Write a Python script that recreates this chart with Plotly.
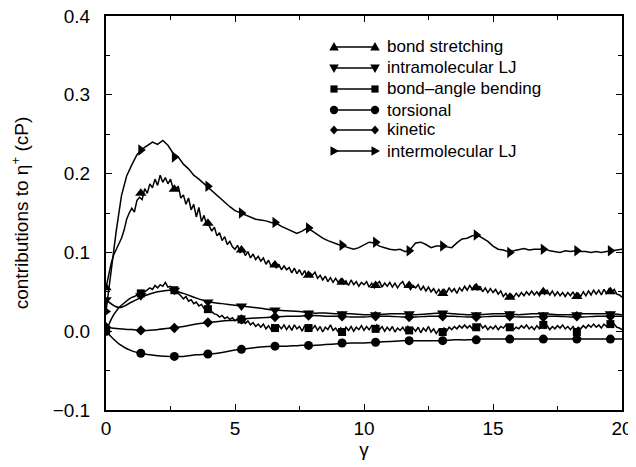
import numpy as np
import plotly.graph_objects as go

# ---------------- data ----------------
# dense sample grid for the noisy curves (step 0.1)
x_fine = [round(0.1 * i, 1) for i in range(201)]
bond_stretching = [
    0.055, 0.072, 0.086, 0.097, 0.104, 0.110, 0.118, 0.128, 0.142, 0.150,
    0.156, 0.151, 0.166, 0.170, 0.167, 0.181, 0.175, 0.187, 0.182, 0.193,
    0.185, 0.198, 0.189, 0.195, 0.187, 0.193, 0.181, 0.179, 0.184, 0.169,
    0.173, 0.161, 0.169, 0.154, 0.161, 0.145, 0.157, 0.139, 0.147, 0.135,
    0.134, 0.127, 0.132, 0.121, 0.125, 0.115, 0.120, 0.110, 0.114, 0.107,
    0.104, 0.109, 0.100, 0.103, 0.096, 0.101, 0.093, 0.098, 0.091, 0.095,
    0.089, 0.093, 0.085, 0.090, 0.082, 0.087, 0.080, 0.085, 0.078, 0.083,
    0.078, 0.081, 0.074, 0.080, 0.073, 0.078, 0.071, 0.077, 0.069, 0.074,
    0.071, 0.075, 0.067, 0.071, 0.065, 0.070, 0.063, 0.068, 0.062, 0.067,
    0.062, 0.066, 0.060, 0.064, 0.058, 0.065, 0.059, 0.063, 0.057, 0.062,
    0.059, 0.063, 0.056, 0.061, 0.055, 0.060, 0.063, 0.056, 0.061, 0.057,
    0.062, 0.056, 0.061, 0.055, 0.060, 0.063, 0.056, 0.059, 0.053, 0.058,
    0.055, 0.059, 0.052, 0.057, 0.051, 0.056, 0.050, 0.054, 0.048, 0.053,
    0.047, 0.053, 0.049, 0.055, 0.050, 0.054, 0.048, 0.055, 0.051, 0.057,
    0.052, 0.058, 0.053, 0.059, 0.052, 0.057, 0.050, 0.055, 0.049, 0.054,
    0.049, 0.053, 0.047, 0.051, 0.044, 0.048, 0.042, 0.047, 0.043, 0.048,
    0.044, 0.049, 0.045, 0.050, 0.046, 0.051, 0.046, 0.050, 0.045, 0.051,
    0.047, 0.052, 0.046, 0.051, 0.045, 0.050, 0.045, 0.049, 0.044, 0.049,
    0.045, 0.050, 0.043, 0.048, 0.044, 0.050, 0.045, 0.051, 0.046, 0.052,
    0.047, 0.052, 0.046, 0.053, 0.048, 0.054, 0.049, 0.053, 0.047, 0.046,
    0.043,
]
bond_angle_bending = [
    0.000, 0.008, 0.015, 0.021, 0.026, 0.030, 0.033, 0.036, 0.039, 0.041,
    0.043, 0.044, 0.046, 0.047, 0.048, 0.050, 0.052, 0.055, 0.053, 0.058,
    0.055, 0.059, 0.057, 0.062, 0.056, 0.057, 0.053, 0.051, 0.048, 0.045,
    0.041, 0.044, 0.038, 0.040, 0.035, 0.037, 0.032, 0.034, 0.029, 0.030,
    0.027, 0.025, 0.022, 0.021, 0.018, 0.020, 0.016, 0.018, 0.015, 0.017,
    0.013, 0.016, 0.012, 0.014, 0.010, 0.013, 0.008, 0.011, 0.006, 0.009,
    0.005, 0.009, 0.003, 0.007, 0.002, 0.006, 0.001, 0.007, 0.003, 0.008,
    0.002, 0.007, 0.001, 0.008, 0.003, 0.006, 0.000, 0.007, 0.002, 0.005,
    0.003, 0.007, 0.001, 0.006, -0.001, 0.005, 0.002, 0.008, 0.001, 0.004,
    -0.001, 0.004, -0.002, 0.005, 0.001, 0.006, 0.000, 0.005, 0.002, 0.007,
    0.001, 0.006, 0.002, 0.007, 0.003, 0.008, 0.002, 0.006, 0.000, 0.005,
    0.001, 0.006, -0.001, 0.004, 0.001, 0.005, 0.000, 0.006, 0.001, 0.004,
    0.000, 0.005, -0.002, 0.004, 0.000, 0.006, -0.001, 0.003, -0.003, 0.002,
    -0.001, 0.004, 0.000, 0.005, 0.002, 0.006, 0.003, 0.007, 0.004, 0.008,
    0.004, 0.007, 0.003, 0.008, 0.005, 0.009, 0.004, 0.007, 0.002, 0.006,
    0.003, 0.007, 0.002, 0.006, 0.004, 0.008, 0.003, 0.006, 0.002, 0.005,
    0.003, 0.007, 0.004, 0.008, 0.003, 0.006, 0.002, 0.007, 0.003, 0.008,
    0.004, 0.007, 0.002, 0.006, 0.003, 0.007, 0.004, 0.008, 0.003, 0.006,
    0.002, 0.006, 0.001, 0.005, 0.003, 0.007, 0.004, 0.008, 0.005, 0.009,
    0.005, 0.008, 0.004, 0.009, 0.006, 0.010, 0.007, 0.009, 0.005, 0.004,
    0.002,
]

# grid step 0.2 for the intermolecular LJ curve
x_mid = [round(0.2 * i, 1) for i in range(101)]
intermolecular_lj = [
    0.025, 0.078, 0.128, 0.172, 0.197, 0.211, 0.224, 0.231, 0.236, 0.240,
    0.237, 0.242, 0.236, 0.226, 0.221, 0.212, 0.206, 0.198, 0.193, 0.187,
    0.182, 0.176, 0.169, 0.163, 0.158, 0.153, 0.150, 0.147, 0.144, 0.142,
    0.141, 0.140, 0.138, 0.137, 0.133, 0.130, 0.128, 0.124, 0.127, 0.131,
    0.127, 0.122, 0.118, 0.115, 0.112, 0.110, 0.108, 0.106, 0.104, 0.106,
    0.110, 0.113, 0.112, 0.108, 0.106, 0.104, 0.103, 0.104, 0.101, 0.104,
    0.112, 0.113, 0.110, 0.106, 0.108, 0.108, 0.107, 0.106, 0.112, 0.117,
    0.118, 0.121, 0.122, 0.118, 0.114, 0.108, 0.104, 0.103, 0.101, 0.102,
    0.104, 0.105, 0.103, 0.104, 0.104, 0.105, 0.102, 0.101, 0.100, 0.102,
    0.101, 0.102, 0.101, 0.101, 0.100, 0.101, 0.100, 0.101, 0.102, 0.103,
    0.104,
]

# grid step 0.5 for the smooth curves
x_coarse = [0.5 * i for i in range(41)]
intramolecular_lj = [
    0.040, 0.030, 0.037, 0.045, 0.050, 0.052, 0.048, 0.042, 0.037, 0.035,
    0.033, 0.031, 0.029, 0.027, 0.026, 0.025, 0.023, 0.023, 0.022, 0.022,
    0.021, 0.021, 0.022, 0.022, 0.021, 0.022, 0.023, 0.022, 0.021, 0.021,
    0.022, 0.022, 0.021, 0.022, 0.022, 0.021, 0.021, 0.022, 0.022, 0.022,
    0.021,
]
kinetic = [
    0.005, 0.003, 0.002, 0.001, 0.002, 0.004, 0.006, 0.009, 0.011, 0.013,
    0.014, 0.016, 0.017, 0.018, 0.019, 0.019, 0.020, 0.019, 0.019, 0.018,
    0.018, 0.019, 0.019, 0.018, 0.018, 0.019, 0.019, 0.019, 0.018, 0.018,
    0.019, 0.019, 0.018, 0.018, 0.019, 0.019, 0.018, 0.018, 0.019, 0.019,
    0.019,
]
torsional = [
    0.000, -0.016, -0.025, -0.029, -0.031, -0.032, -0.032, -0.030, -0.029, -0.027,
    -0.024, -0.022, -0.020, -0.019, -0.019, -0.018, -0.018, -0.017, -0.016, -0.015,
    -0.015, -0.014, -0.013, -0.012, -0.012, -0.012, -0.012, -0.011, -0.011, -0.010,
    -0.010, -0.010, -0.010, -0.010, -0.010, -0.010, -0.010, -0.010, -0.010, -0.010,
    -0.010,
]

# symbol positions along the curves
marker_x = [0.0, 1.35, 2.65, 3.95, 5.25, 6.55, 7.85, 9.15, 10.45, 11.75,
            13.05, 14.35, 15.65, 16.95, 18.25, 19.55]
m_bond_stretching = [0.055, 0.175, 0.180, 0.137, 0.103, 0.084, 0.071, 0.062,
                     0.058, 0.058, 0.048, 0.055, 0.043, 0.050, 0.044, 0.050]
m_intramolecular_lj = [0.040, 0.045, 0.052, 0.037, 0.032, 0.027, 0.023, 0.022,
                       0.021, 0.022, 0.023, 0.021, 0.022, 0.021, 0.021, 0.022]
m_bond_angle_bending = [0.000, 0.048, 0.052, 0.028, 0.015, 0.004, 0.004, -0.001,
                        0.003, 0.001, -0.001, 0.005, 0.005, 0.008, -0.001, 0.009]
m_torsional = [0.000, -0.028, -0.032, -0.029, -0.023, -0.019, -0.018, -0.015,
               -0.014, -0.012, -0.012, -0.011, -0.010, -0.010, -0.010, -0.010]
m_kinetic = [0.005, 0.001, 0.004, 0.011, 0.015, 0.018, 0.020, 0.019,
             0.019, 0.018, 0.019, 0.018, 0.019, 0.018, 0.019, 0.019]
m_intermolecular_lj = [0.025, 0.230, 0.221, 0.184, 0.150, 0.138, 0.131, 0.109,
                       0.113, 0.102, 0.108, 0.122, 0.100, 0.104, 0.102, 0.102]

legend_labels = ["bond stretching", "intramolecular LJ", "bond\u2013angle bending",
                 "torsional", "kinetic", "intermolecular LJ"]

# ---------------- figure ----------------
# the page body adds an 8px offset, so the figure is 8px smaller than the window
OFF = 8
W, H = 636 - OFF, 467 - OFF
ML, MR, MT, MB = 106 - OFF, 14, 16 - OFF, 57
FONT = "Liberation Sans, Arial, Helvetica, sans-serif"

fig = go.Figure()

series = [
    (x_fine, bond_stretching, m_bond_stretching, "triangle-up", 10, "linear"),
    (x_coarse, intramolecular_lj, m_intramolecular_lj, "triangle-down", 10, "spline"),
    (x_fine, bond_angle_bending, m_bond_angle_bending, "square", 8, "linear"),
    (x_coarse, torsional, m_torsional, "circle", 9, "spline"),
    (x_coarse, kinetic, m_kinetic, "diamond", 8, "spline"),
    (x_mid, intermolecular_lj, m_intermolecular_lj, "triangle-right", 10, "linear"),
]

for (xs, ys, ms, sym, size, shape), name in zip(series, legend_labels):
    fig.add_trace(go.Scatter(x=xs, y=ys, mode="lines", name=name,
                             line=dict(color="black", width=1.5, shape=shape),
                             showlegend=False, hoverinfo="skip"))
    fig.add_trace(go.Scatter(x=marker_x, y=ms, mode="markers", name=name,
                             marker=dict(symbol=sym, size=size, color="black",
                                         line=dict(width=0)),
                             showlegend=False))

# hand-drawn legend (markers at both line ends, like the original);
# positions are given in window pixels and converted to paper coordinates
def pxx(p):
    return (p - OFF - ML) / (W - ML - MR)

def pxy(p):
    return (H - MB - (p - OFF)) / (H - MT - MB)

shapes = []
annotations = []
row_y = [47, 68, 89, 110, 130, 151]
x0, x1, xt = 334, 375, 385

def sym_shape(kind, cx, cy):
    if kind == "circle":
        return dict(type="circle", xref="paper", yref="paper",
                    x0=pxx(cx - 4.2), x1=pxx(cx + 4.2), y0=pxy(cy + 4.2), y1=pxy(cy - 4.2),
                    fillcolor="black", line=dict(width=0))
    if kind == "square":
        pts = [(-3.6, -3.6), (3.6, -3.6), (3.6, 3.6), (-3.6, 3.6)]
    elif kind == "triangle-up":
        pts = [(0, -5), (4.8, 3.5), (-4.8, 3.5)]
    elif kind == "triangle-down":
        pts = [(0, 5), (4.8, -3.5), (-4.8, -3.5)]
    elif kind == "diamond":
        pts = [(0, -4.5), (4, 0), (0, 4.5), (-4, 0)]
    else:  # triangle-right
        pts = [(5, 0), (-3.5, -4.8), (-3.5, 4.8)]
    path = "M " + " L ".join(f"{pxx(cx + dx):.5f},{pxy(cy + dy):.5f}" for dx, dy in pts) + " Z"
    return dict(type="path", xref="paper", yref="paper", path=path,
                fillcolor="black", line=dict(width=0))

for (s, label, ry) in zip([t[3] for t in series], legend_labels, row_y):
    shapes.append(dict(type="line", xref="paper", yref="paper",
                       x0=pxx(x0), x1=pxx(x1), y0=pxy(ry), y1=pxy(ry),
                       line=dict(color="black", width=1.3)))
    shapes.append(sym_shape(s, x0, ry))
    shapes.append(sym_shape(s, x1, ry))
    annotations.append(dict(xref="paper", yref="paper", x=pxx(xt), y=pxy(ry),
                            xanchor="left", yanchor="middle", showarrow=False,
                            text=label, font=dict(size=17, color="black", family=FONT)))

axis_common = dict(showline=True, linecolor="black", linewidth=2, mirror="allticks",
                   ticks="inside", ticklen=6, tickwidth=1.2, tickcolor="black",
                   showgrid=False, zeroline=False, automargin=False,
                   ticklabeloverflow="allow",
                   tickfont=dict(size=19, color="black", family=FONT))

fig.update_layout(
    width=W, height=H,
    margin=dict(l=ML, r=MR, t=MT, b=MB),
    paper_bgcolor="white", plot_bgcolor="white",
    showlegend=False,
    shapes=shapes, annotations=annotations,
    font=dict(family=FONT, color="black"),
    xaxis=dict(range=[0, 20], tickvals=[0, 5, 10, 15, 20], ticklabelstandoff=0,
               minor=dict(dtick=2.5, ticks="inside", ticklen=4, tickcolor="black"),
               title=dict(text="\u03b3", font=dict(size=19, family=FONT), standoff=5),
               **axis_common),
    yaxis=dict(range=[-0.1, 0.4], tickvals=[-0.1, 0.0, 0.1, 0.2, 0.3, 0.4],
               ticktext=["\u22120.1", "0.0", "0.1", "0.2", "0.3", "0.4"],
               ticklabelstandoff=10,
               minor=dict(dtick=0.05, ticks="inside", ticklen=4, tickcolor="black"),
               title=dict(text="contributions to \u03b7<sup>+</sup> (cP)",
                          font=dict(size=19, family=FONT), standoff=26),
               **axis_common),
)

fig.write_html("out.html")
